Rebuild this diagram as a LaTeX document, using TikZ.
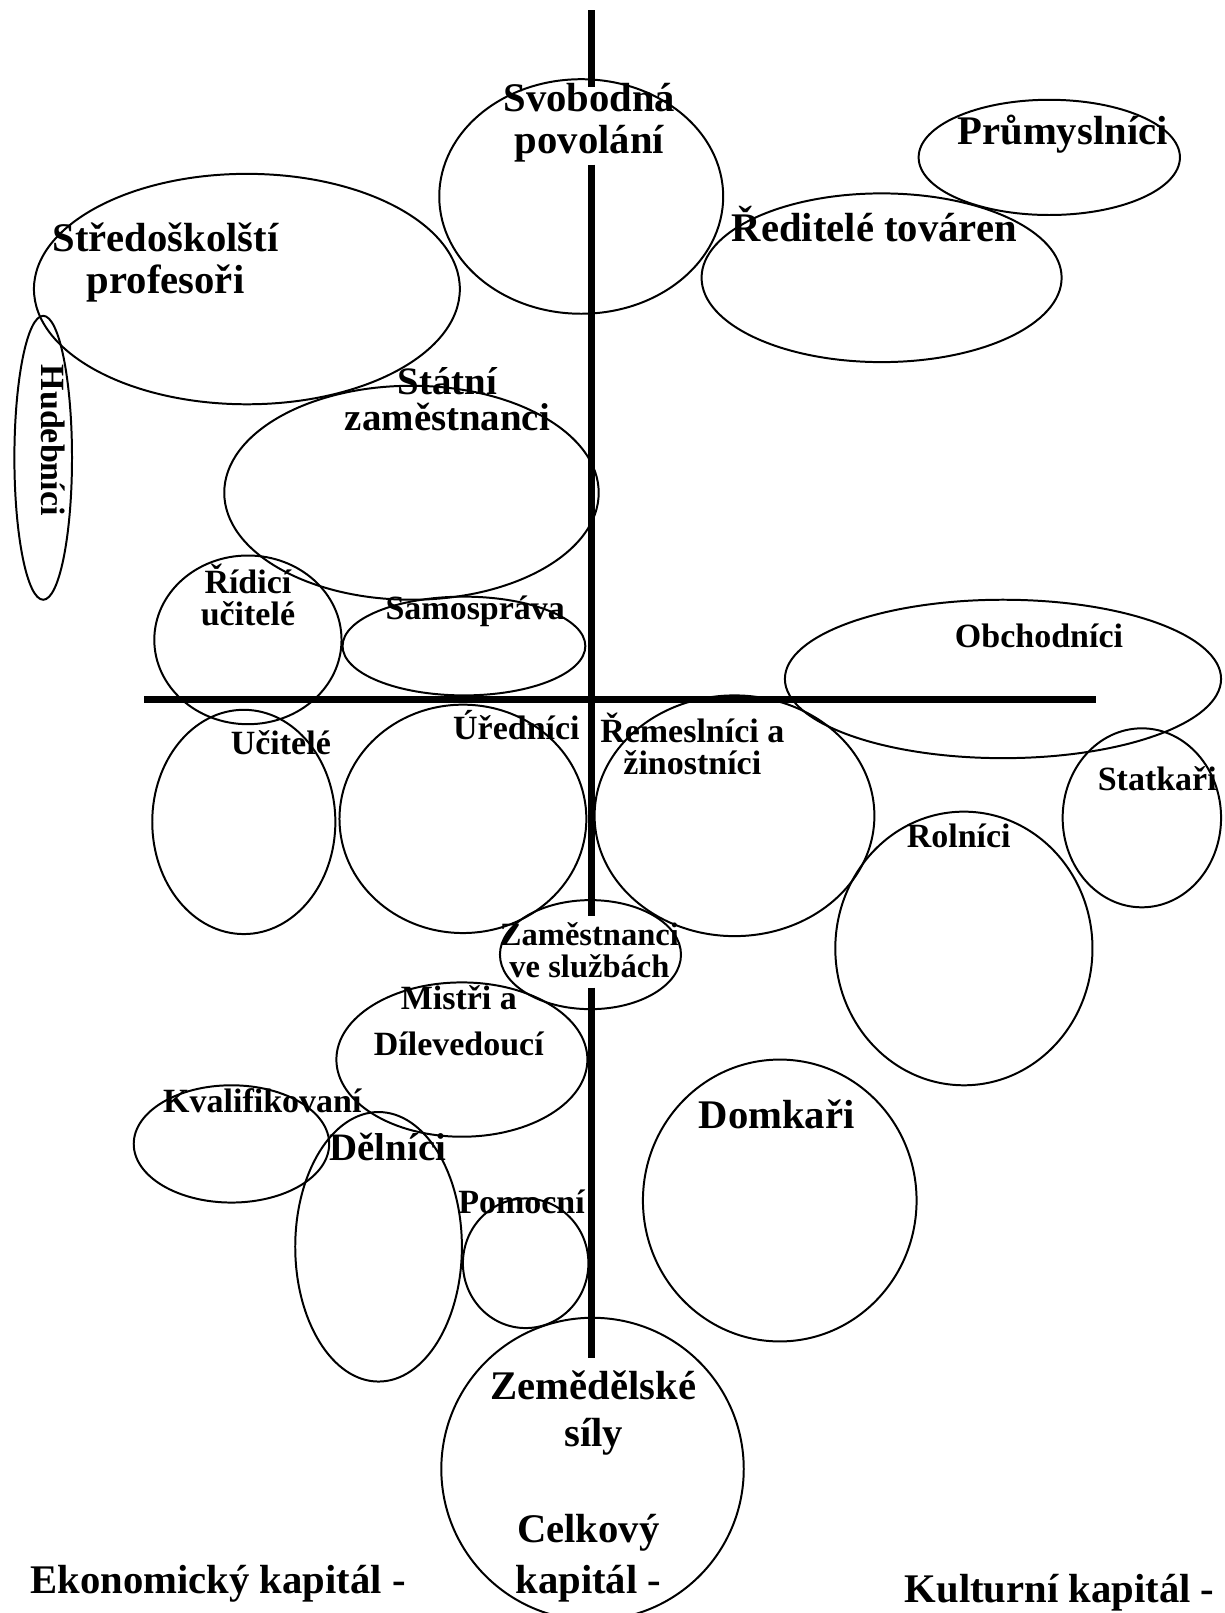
\documentclass[tikz,border=0pt]{standalone}
\usepackage{fontspec}
\setmainfont{Liberation Serif}
\usepackage{tikz}

\begin{document}
\begin{tikzpicture}[x=0.02cm,y=-0.02cm,
                velky/.style={font=\fontsize{22.5}{23}\selectfont\bfseries,align=center},
                maly/.style={font=\fontsize{18.8}{17.6}\selectfont\bfseries,align=center},
                osa/.style={line width=4pt},
                skupina/.style={black,line width=1.1pt}]
                \tikzstyle{every node}+=[inner sep=0pt]
                \useasboundingbox (0,0) rectangle (1190,1568);
                \draw [osa] (575,10) -- (575,85);
                \draw [osa] (575,160) -- (575,890);
                \draw [osa] (575,960) -- (575,1320);
                \draw [osa] (140,680) -- (1065,680);
                \draw [skupina] (565,191) ellipse (138 and 114);
                \node [velky] (svob) at (573,119) {Svobodná\\povolání};
                \draw [skupina] (1020,153) ellipse (127 and 56);
                \node [velky] (prum) at (1033,130) {Průmyslníci};
                \draw [skupina] (857,270) ellipse (175 and 82);
                \node [velky] (redit) at (850,218) {Ředitelé továren};
                \draw [skupina] (240,281) ellipse (207 and 112);
                \node [velky] (stred) at (161,255) {Středoškolští\\profesoři};
                \draw [skupina] (42,445) ellipse (28 and 138);
                \node [maly,rotate=-90] (hudeb) at (52,428) {Hudebníci};
                \draw [skupina] (400,479) ellipse (182 and 104);
                \node [maly,font=\fontsize{21.5}{20}\selectfont\bfseries] (statni) at (435,388) {Státní\\zaměstnanci};
                \draw [skupina] (241,622) ellipse (91 and 82);
                \node [maly] (ridici) at (241,578) {Řídicí\\učitelé};
                \draw [skupina] (451,628) ellipse (118 and 48);
                \node [maly] (samo) at (462,594) {Samospráva};
                \draw [skupina] (975,660) ellipse (212 and 77);
                \node [maly] (obch) at (1010,618) {Obchodníci};
                \draw [skupina] (237,799) ellipse (89 and 109);
                \node [maly] (ucit) at (273,722) {Učitelé};
                \draw [skupina] (450,796) ellipse (120 and 111);
                \node [maly] (ured) at (502,705) {Úředníci};
                \draw [skupina] (714,793) ellipse (136 and 117);
                \node [maly] (remes) at (673,723) {Řemeslníci a\\žinostníci};
                \draw [skupina] (1110,795) ellipse (77 and 87);
                \node [maly] (statk) at (1125,757) {Statkaři};
                \draw [skupina] (937,922) ellipse (125 and 133);
                \node [maly] (roln) at (932,813) {Rolníci};
                \draw [skupina] (574,928) ellipse (88 and 53);
                \node [maly,font=\fontsize{18}{17.5}\selectfont\bfseries] (zamsl) at (573,924) {Zaměstnanci\\ve službách};
                \draw [skupina] (449,1030) ellipse (122 and 75);
                \node [maly] (mistri) at (446,992) {Mistři a\\[8pt]Dílevedoucí};
                \draw [skupina] (225,1112) ellipse (95 and 57);
                \node [maly] (kvalif) at (255,1070) {Kvalifikovaní};
                \draw [skupina] (368,1212) ellipse (81 and 131);
                \node [maly,font=\fontsize{21.5}{19}\selectfont\bfseries] (delnici) at (377,1115) {Dělníci};
                \draw [skupina] (511,1228) ellipse (61 and 63);
                \node [maly] (pomoc) at (507,1168) {Pomocní};
                \draw [skupina] (758,1167) ellipse (133 and 137);
                \node [velky] (domk) at (755,1083) {Domkaři};
                \draw [skupina] (576,1428) ellipse (147 and 147);
                \node [velky] (zemed) at (577,1374) {Zemědělské\\[3pt]síly};
                \node [velky] (celk) at (572,1515) {Celkový\\[5pt]kapitál -};
                \node [velky] (ekon) at (212,1540) {Ekonomický kapitál -};
                \node [velky] (kult) at (1030,1548) {Kulturní kapitál -};
              \end{tikzpicture}
\end{document}
